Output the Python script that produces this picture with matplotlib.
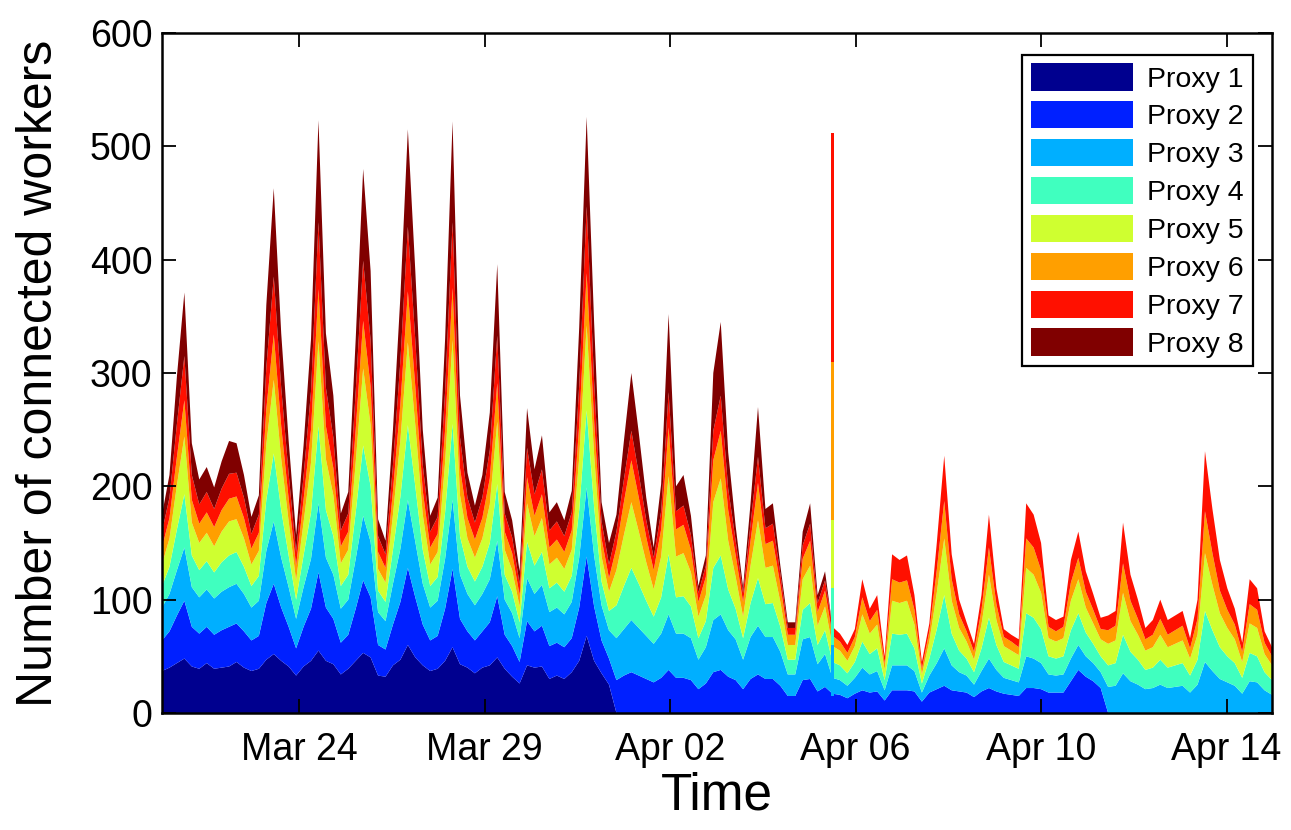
import numpy as np
import matplotlib.pyplot as plt
import matplotlib.dates as mdates
from datetime import datetime, timedelta

# samples every 4 hours starting Mar 21 20:00
start = datetime(2013, 3, 21, 20, 0)
step_hours = 4

proxy1 = [37, 40, 44, 48, 41, 39, 44, 39, 40, 41,
          45, 40, 37, 39, 47, 52, 46, 41, 33, 41,
          46, 55, 46, 43, 34, 39, 46, 53, 49, 33,
          32, 42, 47, 60, 49, 42, 37, 39, 46, 58,
          43, 40, 35, 40, 42, 49, 39, 32, 26, 42,
          40, 41, 30, 33, 30, 36, 46, 68, 46, 35,
          25] + [0] * 89

proxy2 = [27, 32, 42, 51, 35, 31, 32, 30, 33, 35,
          34, 32, 27, 29, 50, 62, 47, 35, 24, 35,
          46, 69, 47, 40, 28, 30, 46, 64, 53, 27,
          24, 36, 51, 68, 53, 36, 27, 29, 46, 69,
          40, 32, 29, 32, 38, 54, 30, 27, 19, 39,
          32, 36, 29, 29, 28, 30, 47, 70, 48, 29,
          23,
          29, 33, 36, 33, 30, 27, 31, 38, 31, 31,
          29, 21, 26, 36, 38, 32, 29, 21, 30, 34,
          30, 30, 24, 15, 15, 29, 30, 19, 23,
          17, 16, 13, 17, 20, 18, 19, 11, 20, 20,
          20, 19, 10, 18, 21, 24, 20, 19, 18, 14,
          19, 22, 19, 17, 16, 15, 22, 22, 21, 18,
          18, 18, 28, 38, 32, 28, 22] + [0] * 23

proxy3 = [29, 33, 40, 47, 35, 32, 33, 32, 34, 35,
          35, 33, 29, 31, 46, 55, 44, 35, 26, 35,
          44, 61, 44, 39, 30, 31, 44, 57, 49, 29,
          25, 36, 47, 60, 49, 36, 29, 31, 44, 61,
          39, 33, 31, 33, 38, 49, 31, 29, 21, 38,
          33, 36, 30, 31, 29, 32, 44, 61, 45, 31,
          25,
          37, 41, 46, 42, 38, 34, 39, 49, 39, 39,
          37, 26, 32, 46, 49, 41, 36, 26, 37, 43,
          37, 37, 30, 19, 19, 36, 37, 24, 29,
          14, 13, 11, 14, 20, 16, 18, 9, 22, 22,
          22, 18, 8, 15, 23, 33, 22, 17, 15, 11,
          18, 26, 19, 14, 13, 12, 28, 26, 23, 16,
          15, 16, 20, 22, 18, 16, 14,
          23, 24, 35, 28, 25, 21, 22, 25, 22, 23,
          24, 18, 25, 45, 37, 30, 27, 24, 17, 28,
          27, 20, 16]

proxy4 = [19, 24, 36, 47, 28, 24, 25, 23, 26, 28,
          28, 24, 19, 22, 45, 60, 42, 28, 17, 28,
          41, 68, 42, 34, 20, 22, 41, 62, 49, 19,
          17, 30, 46, 66, 49, 30, 19, 21, 41, 67,
          34, 24, 21, 24, 32, 50, 22, 19, 14, 32,
          25, 29, 21, 22, 20, 23, 42, 68, 43, 21,
          17,
          29, 38, 46, 39, 31, 24, 32, 53, 32, 33,
          28, 19, 23, 46, 52, 36, 27, 19, 30, 42,
          29, 30, 22, 13, 13, 26, 30, 17, 21,
          14, 13, 11, 14, 23, 18, 20, 9, 28, 27,
          28, 20, 8, 15, 30, 47, 28, 19, 15, 11,
          20, 36, 22, 14, 13, 12, 38, 36, 30, 16,
          15, 16, 25, 28, 21, 17, 14,
          19, 20, 34, 26, 22, 17, 18, 22, 18, 19,
          20, 15, 22, 45, 36, 28, 23, 20, 14, 25,
          23, 16, 13]

proxy5 = [19, 25, 39, 51, 29, 24, 25, 23, 27, 30,
          29, 25, 19, 22, 49, 65, 45, 30, 17, 29,
          44, 75, 45, 36, 20, 22, 44, 68, 54, 19,
          17, 31, 50, 73, 54, 31, 19, 22, 44, 74,
          36, 25, 21, 25, 34, 55, 22, 19, 14, 34,
          26, 30, 21, 22, 20, 23, 46, 75, 46, 22,
          17,
          31, 45, 58, 46, 34, 24, 36, 69, 36, 38,
          30, 19, 23, 58, 68, 43, 28, 19, 33, 51,
          32, 33, 22, 13, 13, 27, 33, 17, 21,
          14, 13, 11, 14, 24, 18, 21, 9, 29, 28,
          29, 21, 8, 15, 32, 50, 29, 20, 15, 11,
          21, 38, 22, 14, 13, 12, 40, 38, 32, 16,
          15, 16, 26, 30, 22, 18, 15,
          19, 20, 37, 27, 22, 17, 18, 22, 18, 19,
          20, 15, 22, 51, 40, 30, 25, 21, 14, 26,
          25, 16, 13]

proxy6 = [15, 18, 25, 32, 20, 17, 18, 17, 19, 20,
          20, 18, 14, 16, 31, 40, 29, 20, 13, 20,
          29, 46, 29, 24, 15, 16, 29, 42, 34, 15,
          13, 21, 32, 45, 34, 21, 15, 16, 29, 46,
          24, 18, 16, 18, 23, 34, 16, 15, 10, 23,
          18, 21, 15, 16, 15, 17, 29, 46, 30, 16,
          12,
          20, 29, 37, 30, 22, 17, 24, 43, 24, 25,
          20, 13, 16, 37, 42, 27, 19, 13, 22, 33,
          21, 22, 15, 9, 9, 18, 22, 12, 14,
          9, 8, 7, 8, 15, 11, 13, 6, 19, 18,
          18, 13, 5, 9, 20, 33, 19, 12, 9, 7,
          13, 24, 14, 8, 8, 7, 26, 24, 20, 10,
          9, 10, 16, 19, 14, 12, 9,
          12, 13, 26, 18, 14, 10, 11, 14, 11, 12,
          13, 9, 14, 37, 28, 20, 16, 13, 9, 17,
          16, 10, 8]

proxy7 = [14, 18, 29, 39, 22, 17, 18, 16, 19, 22,
          21, 18, 13, 16, 37, 51, 34, 22, 12, 21,
          34, 59, 34, 27, 14, 16, 34, 53, 41, 14,
          12, 23, 38, 57, 41, 23, 14, 15, 34, 58,
          27, 18, 15, 18, 25, 42, 16, 14, 10, 26,
          19, 22, 15, 16, 14, 16, 35, 59, 35, 15,
          12,
          14, 20, 26, 21, 15, 11, 16, 31, 16, 17,
          13, 8, 10, 26, 31, 19, 13, 8, 15, 23,
          14, 15, 10, 6, 6, 12, 15, 8, 9,
          8, 7, 7, 7, 16, 11, 13, 6, 22, 20,
          22, 13, 6, 7, 24, 40, 22, 13, 8, 7,
          13, 29, 14, 7, 6, 7, 31, 29, 24, 10,
          10, 9, 20, 23, 18, 14, 10,
          13, 13, 36, 23, 17, 10, 13, 17, 13, 13,
          13, 9, 17, 53, 39, 27, 19, 14, 8, 22,
          19, 10, 8]

proxy8 = [15, 20, 42, 56, 28, 22, 22, 19, 24, 29,
          26, 20, 15, 17, 55, 78, 48, 29, 15, 27,
          46, 90, 48, 37, 15, 19, 46, 81, 61, 15,
          12, 31, 57, 86, 61, 31, 14, 17, 46, 89,
          37, 22, 15, 20, 33, 63, 19, 15, 11, 35,
          22, 30, 16, 17, 14, 19, 51, 79, 52, 17,
          19,
          15, 34, 51, 36, 20, 9, 24, 69, 22, 27,
          17, 6, 9, 51, 65, 32, 13, 5, 18, 44,
          17, 18, 7, 5, 5, 12, 18, 7, 8] + [0] * 60

# one short burst on Apr 05 evening
spike_hour = 360
spike_values = [0, 15, 45, 50, 60, 140, 202, 0]

labels = ['Proxy %d' % k for k in range(1, 9)]
colors = ['#00008F', '#0020FF', '#00AFFF', '#40FFBF',
          '#CFFF30', '#FF9F00', '#FF1000', '#800000']

series = [proxy1, proxy2, proxy3, proxy4, proxy5, proxy6, proxy7, proxy8]
n = len(proxy1)
times = [start + timedelta(hours=step_hours * k) for k in range(n)]

plt.rcParams['font.family'] = ['Liberation Sans', 'DejaVu Sans']

fig = plt.figure(figsize=(12.91, 8.30), dpi=100)
ax = fig.add_axes([0.1255, 0.141, 0.8598, 0.8193])

polys = ax.stackplot(times, np.array(series), colors=colors, labels=labels,
                     linewidth=0)

# the burst, stacked the same way
t_spike = start + timedelta(hours=spike_hour)
bottom = 0
for v, c in zip(spike_values, colors):
    if v > 0:
        ax.bar(t_spike, v, bottom=bottom, width=0.05, color=c, linewidth=0)
    bottom += v

ax.set_xlim(times[0], times[-1])
ax.set_ylim(0, 600)
ax.set_yticks(range(0, 601, 100))

first_tick = datetime(2013, 3, 24, 21, 36)
ticks = [first_tick + timedelta(days=4.15 * k) for k in range(6)]
ax.set_xticks(ticks)
ax.xaxis.set_major_formatter(mdates.DateFormatter('%b %d'))

ax.tick_params(axis='both', direction='in', length=10, width=1.3,
               labelsize=27, top=True, right=True)
ax.tick_params(axis='x', pad=14)
ax.tick_params(axis='y', pad=7)
for sp in ax.spines.values():
    sp.set_linewidth(1.8)

ax.set_xlabel('Time', fontsize=37, labelpad=2)
ax.set_ylabel('Number of connected workers', fontsize=36, labelpad=20)

leg = ax.legend(polys, labels, loc='upper right',
                bbox_to_anchor=(0.9825, 0.968), borderaxespad=0,
                fontsize=20.5, handlelength=3.6, handleheight=1.1,
                handletextpad=0.5, labelspacing=0.3, borderpad=0.3,
                fancybox=False, framealpha=1)
leg.get_frame().set_edgecolor('black')
leg.get_frame().set_linewidth(1.6)

fig.savefig('out.png', dpi=100)
